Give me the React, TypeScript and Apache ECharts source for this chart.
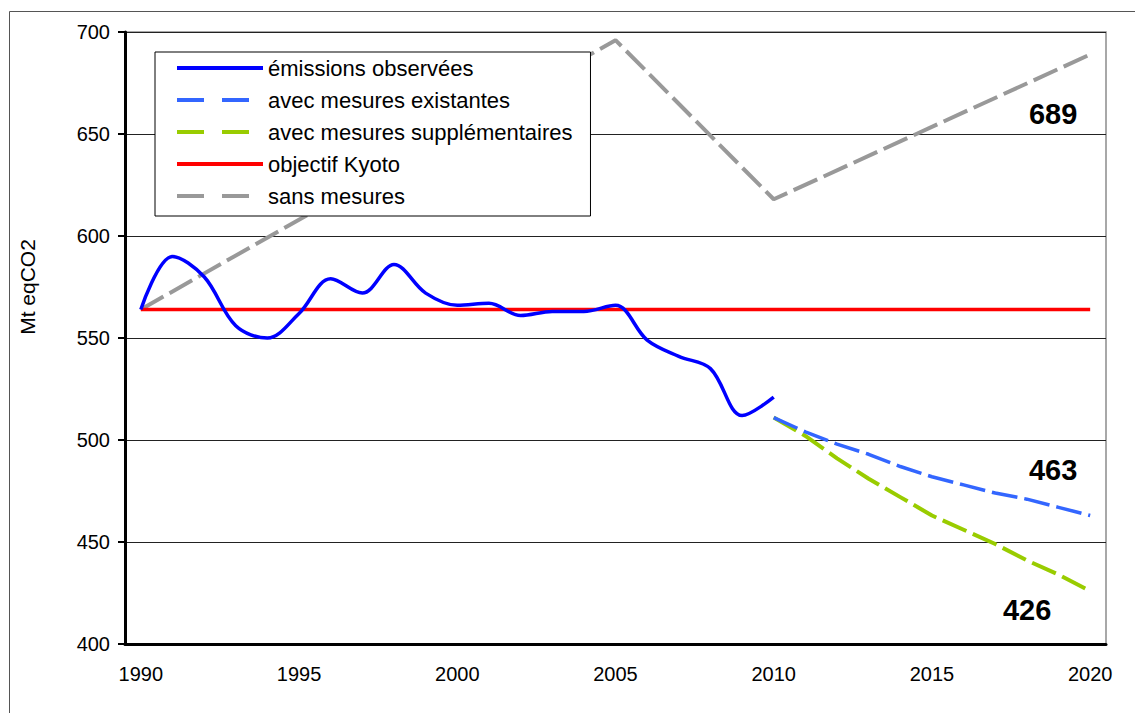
import React, { useEffect, useRef } from "react";
import * as echarts from "echarts";

const years = [
  "1990", "1991", "1992", "1993", "1994", "1995", "1996", "1997", "1998", "1999",
  "2000", "2001", "2002", "2003", "2004", "2005", "2006", "2007", "2008", "2009",
  "2010", "2011", "2012", "2013", "2014", "2015", "2016", "2017", "2018", "2019", "2020",
];

const observedYears = years.slice(0, 21);
const observed = [564, 590, 580, 556, 550, 562, 579, 572, 586, 572, 566, 567, 561, 563, 563, 566, 549, 541, 535, 512, 521];

const projectionYears = years.slice(20);
const existingMeasures = [511, 504, 498, 493, 487, 482, 478, 474, 471, 467, 463];
const additionalMeasures = [511, 502, 491, 481, 472, 463, 456, 449, 441, 434, 426];

const noMeasuresYears = ["1990", "2005", "2010", "2020"];
const noMeasures = [564, 696, 618, 689];

const kyotoYears = ["1990", "2020"];
const kyotoTarget = 564;

const yTicks = [400, 450, 500, 550, 600, 650, 700];

const names = [
  "émissions observées",
  "avec mesures existantes",
  "avec mesures supplémentaires",
  "objectif Kyoto",
  "sans mesures",
];

const FONT = "'Liberation Sans', Arial, sans-serif";

function pairs(xs: string[], ys: number[]) {
  return xs.map((x, i) => [x, ys[i]]);
}

function endMark(xs: string[], ys: number[], offset: number[]) {
  const i = xs.length - 1;
  return {
    symbol: "circle",
    symbolSize: 1,
    itemStyle: { color: "rgba(0,0,0,0)" },
    label: {
      show: true,
      position: "inside",
      offset,
      formatter: "{c}",
      color: "#000",
      fontFamily: FONT,
      fontWeight: "bold",
      fontSize: 29,
    },
    data: [{ coord: [xs[i], ys[i]], value: ys[i] }],
  };
}

export default function App() {
  const ref = useRef<HTMLDivElement>(null);

  useEffect(() => {
    if (!ref.current) return;
    const chart = echarts.init(ref.current, undefined, { renderer: "svg" });
    const dash = [26, 7];
    const legendDash = [27, 18];
    chart.setOption({
      animation: false,
      backgroundColor: "#fff",
      textStyle: { fontFamily: FONT },
      grid: {
        left: 125,
        top: 32,
        right: 29,
        bottom: 69,
        show: true,
        borderColor: "#8c8c8c",
        borderWidth: 1.5,
      },
      xAxis: {
        type: "category",
        data: years,
        boundaryGap: true,
        axisLine: { lineStyle: { color: "#000", width: 3 } },
        axisTick: { interval: 4, length: 7, lineStyle: { color: "#000", width: 2 } },
        axisLabel: { interval: 4, color: "#000", fontSize: 20, margin: 20, fontFamily: FONT },
        splitLine: { show: false },
      },
      yAxis: {
        type: "value",
        min: yTicks[0],
        max: yTicks[yTicks.length - 1],
        interval: 50,
        axisLine: { show: true, lineStyle: { color: "#000", width: 3 } },
        axisTick: { show: true, length: 7, lineStyle: { color: "#000", width: 2 } },
        axisLabel: { color: "#000", fontSize: 20, margin: 15, fontFamily: FONT },
        splitLine: { show: true, lineStyle: { color: "#222", width: 1 } },
      },
      legend: {
        orient: "vertical",
        left: 155,
        top: 52,
        data: [
          { name: names[0] },
          { name: names[1], lineStyle: { type: legendDash } },
          { name: names[2], lineStyle: { type: legendDash } },
          { name: names[3] },
          { name: names[4], lineStyle: { type: legendDash } },
        ],
        itemWidth: 86,
        itemHeight: 20,
        itemGap: 10,
        padding: [5, 18, 9, 20],
        backgroundColor: "#fff",
        borderColor: "#000",
        borderWidth: 1,
        borderRadius: 0,
        itemStyle: { color: "rgba(0,0,0,0)", borderWidth: 0 },
        lineStyle: { width: 4 },
        textStyle: { color: "#000", fontSize: 22, fontFamily: FONT },
        z: 10,
      },
      graphic: [
        {
          type: "rect",
          shape: { x: 9.5, y: 11.5, width: 1400, height: 1000 },
          style: { fill: "none", stroke: "#555", lineWidth: 1 },
          silent: true,
        },
        {
          type: "text",
          x: 27,
          y: 287,
          rotation: Math.PI / 2,
          style: {
            text: "Mt eqCO2",
            fill: "#000",
            font: `21px ${FONT}`,
            textAlign: "center",
            textVerticalAlign: "middle",
          },
        },
      ],
      series: [
        {
          name: names[4],
          type: "line",
          symbol: "none",
          data: pairs(noMeasuresYears, noMeasures),
          lineStyle: { color: "#999999", width: 4, type: dash },
          itemStyle: { color: "#999999" },
          markPoint: endMark(noMeasuresYears, noMeasures, [-37, 60]),
          z: 2,
        },
        {
          name: names[3],
          type: "line",
          symbol: "none",
          data: kyotoYears.map((y) => [y, kyotoTarget]),
          lineStyle: { color: "#ff0000", width: 3.5 },
          itemStyle: { color: "#ff0000" },
          z: 3,
        },
        {
          name: names[0],
          type: "line",
          symbol: "none",
          smooth: 0.35,
          data: pairs(observedYears, observed),
          lineStyle: { color: "#0000ff", width: 3.5 },
          itemStyle: { color: "#0000ff" },
          z: 4,
        },
        {
          name: names[1],
          type: "line",
          symbol: "none",
          data: pairs(projectionYears, existingMeasures),
          lineStyle: { color: "#3366ff", width: 3.5, type: dash },
          itemStyle: { color: "#3366ff" },
          markPoint: endMark(projectionYears, existingMeasures, [-37, -45]),
          z: 4,
        },
        {
          name: names[2],
          type: "line",
          symbol: "none",
          data: pairs(projectionYears, additionalMeasures),
          lineStyle: { color: "#99cc00", width: 4, type: dash },
          itemStyle: { color: "#99cc00" },
          markPoint: endMark(projectionYears, additionalMeasures, [-63, 19]),
          z: 3,
        },
      ],
    });
    return () => chart.dispose();
  }, []);

  return (
    <div
      ref={ref}
      style={{ position: "fixed", left: 0, top: 0, width: 1135, height: 713 }}
    />
  );
}
